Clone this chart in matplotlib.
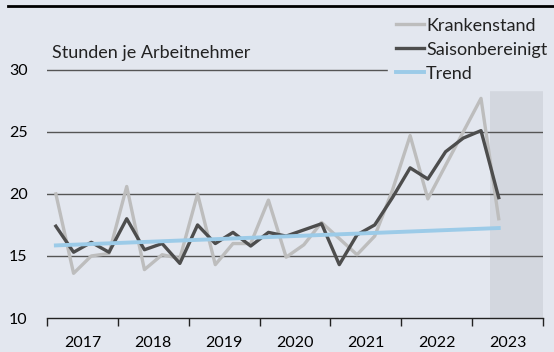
import matplotlib.pyplot as plt
from matplotlib.lines import Line2D
import numpy as np

plt.rcParams['font.family'] = ['Lato', 'DejaVu Sans']

# Quartale 2017 Q1 bis 2023 Q2
jahre = [2017] * 4 + [2018] * 4 + [2019] * 4 + [2020] * 4 + [2021] * 4 + [2022] * 4 + [2023] * 2
quartale = [1, 2, 3, 4] * 6 + [1, 2]

krankenstand = [20.0, 13.6, 15.0, 15.2,
                20.6, 13.9, 15.1, 14.8,
                20.0, 14.3, 16.0, 16.0,
                19.5, 14.9, 15.9, 17.7,
                16.4, 15.1, 16.6, 20.3,
                24.7, 19.6, 22.3, 25.0,
                27.7, 18.0]
saisonbereinigt = [17.4, 15.3, 16.1, 15.3,
                   18.0, 15.5, 16.0, 14.4,
                   17.5, 16.0, 16.9, 15.8,
                   16.9, 16.6, 17.1, 17.6,
                   14.3, 16.7, 17.5, 19.7,
                   22.1, 21.2, 23.4, 24.5,
                   25.1, 19.7]
# Trendgerade: Anfang und Ende
trend_x = [(2017, 1), (2023, 2)]
trend_y = [15.85, 17.25]

jahr_labels = ['2017', '2018', '2019', '2020', '2021', '2022', '2023']
prognose_ab = (2023, 2)

hintergrund = '#e3e7ef'

def pos(j, q):
    return j + (q - 0.5) / 4

x = [pos(j, q) for j, q in zip(jahre, quartale)]

fig = plt.figure(figsize=(5.54, 3.52), dpi=100, facecolor=hintergrund)
ax = fig.add_axes([47 / 554, 1 - 318 / 352, 496 / 554, 304 / 352])
ax.set_facecolor(hintergrund)

# Prognosebereich
ax.axvspan(prognose_ab[0] + (prognose_ab[1] - 1) / 4, 2024, color='#d3d7df', lw=0, zorder=0)

for yv in [15, 20, 25, 30]:
    ax.axhline(yv, color='#555555', lw=1.0, zorder=1)

ax.plot(x, krankenstand, color='#bdbdbd', lw=2.4, label='Krankenstand', zorder=3)
ax.plot(x, saisonbereinigt, color='#4d4d4d', lw=2.4, label='Saisonbereinigt', zorder=4)
ax.plot([pos(*t) for t in trend_x], trend_y, color='#9ccbe8', lw=2.8, label='Trend', zorder=5)

ax.set_xlim(2017, 2024)
ax.set_ylim(10, 34.5)
ax.set_yticks([10, 15, 20, 25, 30])
ax.tick_params(axis='y', length=0, labelsize=11.5, pad=14)
ax.set_xticks(range(2017, 2025))
ax.set_xticklabels([])
ax.set_xticks([int(j) + 0.5 for j in jahr_labels], minor=True)
ax.set_xticklabels(jahr_labels, minor=True)
ax.tick_params(axis='x', which='major', length=6, width=1, color='#222222', direction='out')
ax.tick_params(axis='x', which='minor', length=0, labelsize=11.5, pad=13)

for s in ['top', 'right', 'left']:
    ax.spines[s].set_visible(False)
ax.spines['bottom'].set_color('#222222')
ax.spines['bottom'].set_linewidth(1)

ax.text(2017.07, 30.75, 'Stunden je Arbeitnehmer',
        fontsize=13, color='#222222', va='bottom', ha='left')

leg = ax.legend(loc='upper left', bbox_to_anchor=(0.688, 1.015, 0.33, 0), mode='expand',
                frameon=True, facecolor=hintergrund, edgecolor=hintergrund, framealpha=1,
                fontsize=13, handlelength=1.55, handletextpad=0.1,
                labelspacing=0.45, borderpad=0.45, borderaxespad=0, fancybox=False)
leg.set_zorder(6)
for t in leg.get_texts():
    t.set_color('#222222')

# Linie oben
fig.add_artist(Line2D([8 / 554, 1], [1 - 6 / 352, 1 - 6 / 352], color='black', lw=2))

fig.savefig('out.png', dpi=100, facecolor=hintergrund)
